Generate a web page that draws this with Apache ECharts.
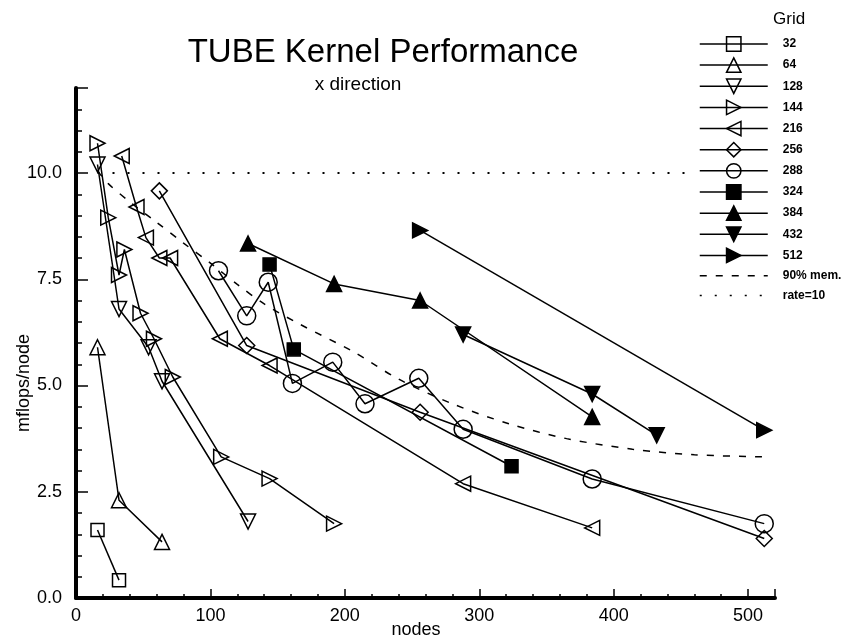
<!DOCTYPE html>
<html>
<head>
<meta charset="utf-8">
<title>TUBE Kernel Performance</title>
<script src="https://cdn.jsdelivr.net/npm/echarts@6/dist/echarts.min.js"></script>
<style>
  html, body { margin: 0; padding: 0; background: #fff; }
  #main { width: 852px; height: 641px; }
</style>
</head>
<body>
<div id="main"></div>
<script>
// [nodes, mflops/node], one list per grid size
const grid32 = [[16, 1.6], [32, 0.42]];
const grid64 = [[16, 5.9], [32, 2.3], [64, 1.32]];
const grid128 = [[16, 10.2], [32, 6.8], [54, 5.9], [64, 5.1], [128, 1.8]];
const grid144 = [[16, 10.7], [24, 8.95], [32, 7.6], [36, 8.2], [48, 6.7], [58, 6.1], [72, 5.2], [108, 3.32], [144, 2.81], [192, 1.75]];
const grid216 = [[34, 10.4], [45, 9.2], [52, 8.48], [62, 8.0], [70, 8.0], [107, 6.1], [144, 5.47], [288, 2.69], [384, 1.65]];
const grid256 = [[62, 9.58], [127, 5.94], [256, 4.37], [512, 1.4]];
const grid288 = [[106, 7.7], [127, 6.64], [143, 7.43], [161, 5.05], [191, 5.55], [215, 4.57], [255, 5.17], [288, 3.97], [384, 2.8], [512, 1.75]];
const grid324 = [[144, 7.85], [162, 5.85], [324, 3.1]];
const grid384 = [[128, 8.34], [192, 7.39], [256, 7.0], [384, 4.26]];
const grid432 = [[288, 6.2], [384, 4.8], [432, 3.83]];
const grid512 = [[256, 8.65], [512, 3.95]];
const mem90 = [[16, 10.05], [24, 9.75], [40, 9.32], [60, 8.84], [80, 8.35], [100, 7.88], [120, 7.38], [140, 6.92],
  [166, 6.45], [206, 5.8], [240, 5.15], [280, 4.57], [322, 4.1], [365, 3.75], [414, 3.5], [460, 3.37], [512, 3.32]];
const rate10 = [[16, 10], [512, 10]];

const gridNames = ['32', '64', '128', '144', '216', '256', '288', '324', '384', '432', '512'];
const gridData = [grid32, grid64, grid128, grid144, grid216, grid256, grid288, grid324, grid384, grid432, grid512];

// marker shapes
const UP = 'path://M5,0L10,10L0,10Z';
const DOWN = 'path://M0,0L10,0L5,10Z';
const RIGHT = 'path://M0,0L10,5L0,10Z';
const LEFT = 'path://M10,0L0,5L10,10Z';
const marks = [
  ['rect', 13, false], [UP, 15, false], [DOWN, 15, false], [RIGHT, 15, false], [LEFT, 15, false],
  ['diamond', 16, false], ['circle', 18, false], ['rect', 13, true], [UP, 15, true], [DOWN, 15, true], [RIGHT, 15, true]
];

const font = 'Liberation Sans, Arial, Helvetica, sans-serif';

let series = gridNames.map(function (name, i) {
  const m = marks[i];
  return {
    name: name,
    type: 'line',
    data: gridData[i],
    symbol: m[0],
    symbolSize: m[1],
    showSymbol: true,
    lineStyle: { color: '#000', width: 1.5 },
    itemStyle: { color: m[2] ? '#000' : 'rgba(0,0,0,0)', borderColor: '#000', borderWidth: 1.5 },
    emphasis: { disabled: true },
    z: 3
  };
});

series.push({
  name: '90% mem.',
  type: 'line',
  data: mem90,
  smooth: 0.3,
  symbol: 'none',
  lineStyle: { color: '#000', width: 1.5, type: [7, 9] },
  itemStyle: { color: 'rgba(0,0,0,0)', borderWidth: 0 },
  emphasis: { disabled: true },
  z: 2
});
series.push({
  name: 'rate=10',
  type: 'line',
  data: rate10,
  symbol: 'none',
  lineStyle: { color: '#000', width: 2, type: [2, 13] },
  itemStyle: { color: 'rgba(0,0,0,0)', borderWidth: 0 },
  emphasis: { disabled: true },
  z: 2
});

let legendData = gridNames.map(function (n) { return { name: n }; });
legendData.push({ name: '90% mem.', itemStyle: { color: 'rgba(0,0,0,0)', borderWidth: 0 } });
legendData.push({ name: 'rate=10', itemStyle: { color: 'rgba(0,0,0,0)', borderWidth: 0 } });

let myChart = echarts.init(document.getElementById('main'));
myChart.setOption({
  animation: false,
  backgroundColor: '#fff',
  title: [
    {
      text: 'TUBE Kernel Performance',
      left: 383,
      top: 36,
      textAlign: 'center',
      padding: 0,
      textStyle: { fontSize: 33, fontWeight: 'normal', color: '#000', fontFamily: font }
    },
    {
      text: 'x direction',
      left: 358,
      top: 75,
      textAlign: 'center',
      padding: 0,
      textStyle: { fontSize: 19, fontWeight: 'normal', color: '#000', fontFamily: font }
    }
  ],
  legend: {
    orient: 'vertical',
    left: 694,
    top: 30,
    padding: [6, 10, 6, 5],
    backgroundColor: '#fff',
    itemWidth: 68,
    itemHeight: 18,
    itemGap: 5.25,
    selectedMode: false,
    data: legendData,
    lineStyle: { width: 1.5 },
    itemStyle: { borderWidth: 1.5 },
    textStyle: { fontSize: 12, fontWeight: 'bold', color: '#000', fontFamily: font, padding: [0, 0, 0, 10] }
  },
  graphic: [
    { type: 'text', left: 773, top: 11, style: { text: 'Grid', fontSize: 17, fill: '#000', fontFamily: font } },
    {
      type: 'text', x: 24, y: 383, rotation: Math.PI / 2,
      style: { text: 'mflops/node', fontSize: 18, fill: '#000', fontFamily: font, align: 'center', verticalAlign: 'middle' }
    },
    {
      type: 'text', x: 416, y: 630,
      style: { text: 'nodes', fontSize: 18, fill: '#000', fontFamily: font, align: 'center', verticalAlign: 'middle' }
    }
  ],
  grid: { left: 76, right: 77, top: 88, bottom: 43, containLabel: false },
  xAxis: [
    {
      type: 'value', min: 0, max: 520, interval: 100, position: 'bottom',
      axisLine: { show: true, lineStyle: { color: '#000', width: 4 } },
      axisTick: { show: true, inside: true, length: 9, lineStyle: { color: '#000', width: 1.5 } },
      axisLabel: {
        color: '#000', fontSize: 18, fontFamily: font, margin: 9,
        formatter: function (v) { return v % 100 === 0 ? String(v) : ''; }
      },
      splitLine: { show: false }
    },
    {
      type: 'value', min: 0, max: 520, interval: 20, position: 'bottom',
      axisLine: { show: false },
      axisTick: { show: true, inside: true, length: 4, lineStyle: { color: '#000', width: 1.5 } },
      axisLabel: { show: false },
      splitLine: { show: false }
    }
  ],
  yAxis: [
    {
      type: 'value', min: 0, max: 12, interval: 2.5, position: 'left',
      axisLine: { show: true, lineStyle: { color: '#000', width: 4 } },
      axisTick: { show: true, inside: true, length: 12, lineStyle: { color: '#000', width: 1.5 } },
      axisLabel: {
        color: '#000', fontSize: 18, fontFamily: font, margin: 14,
        formatter: function (v) { return v % 2.5 === 0 ? v.toFixed(1) : ''; }
      },
      splitLine: { show: false }
    },
    {
      type: 'value', min: 0, max: 12, interval: 0.5, position: 'left',
      axisLine: { show: false },
      axisTick: { show: true, inside: true, length: 6, lineStyle: { color: '#000', width: 1.5 } },
      axisLabel: { show: false },
      splitLine: { show: false }
    }
  ],
  series: series
});
</script>
</body>
</html>
